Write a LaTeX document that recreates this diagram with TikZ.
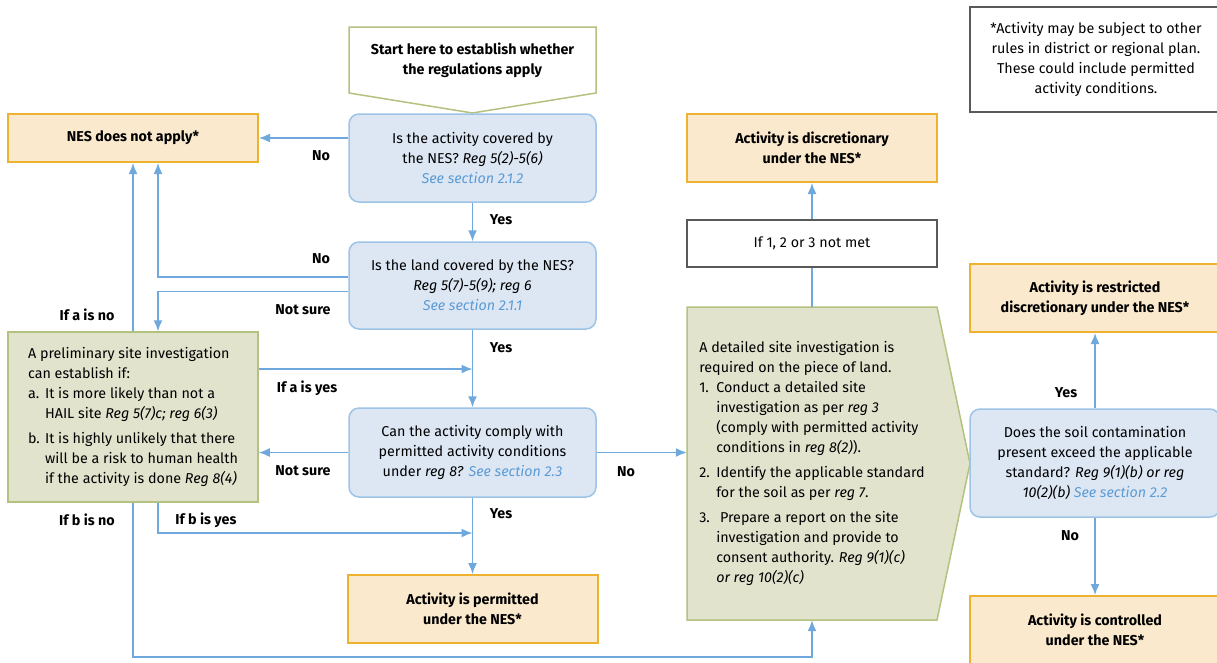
\documentclass[tikz,border=0pt]{standalone}
\usepackage{fontspec}
\setmainfont{Fira Sans}
\usetikzlibrary{calc,arrows.meta}
\definecolor{qfill}{HTML}{DDE7F4}
\definecolor{qline}{HTML}{9DC3E6}
\definecolor{rfill}{HTML}{FAE9CD}
\definecolor{rline}{HTML}{EDB230}
\definecolor{gfill}{HTML}{E1E3CD}
\definecolor{gline}{HTML}{B3C27E}
\definecolor{aline}{HTML}{6FA8DC}
\definecolor{link}{HTML}{5B9BD5}
\newcommand{\fsz}{\fontsize{14.3}{20}\selectfont}
\newcommand{\see}[1]{\textcolor{link}{\textit{See section #1}}}
\newcommand{\itm}[1]{\makebox[17pt][l]{#1}}
\tikzset{>={Latex[length=11pt,width=9pt]}}
\tikzset{
  box/.style={minimum width=250pt,inner sep=0pt,align=center,font=\fsz},
  qbox/.style={box,minimum width=247pt,draw=qline,fill=qfill,line width=1.5pt,rounded corners=10pt},
  rbox/.style={box,draw=rline,fill=rfill,line width=2pt,minimum height=68pt,font=\fsz\bfseries},
  wbox/.style={box,draw=black!65,line width=1.2pt},
  lbl/.style={font=\fsz\bfseries,inner sep=0pt},
  conn/.style={->,aline,line width=1.5pt}
}

\begin{document}
\begin{tikzpicture}[x=1pt,y=-1pt]
  \useasboundingbox (0,0) rectangle (1217,662);
  \draw[gline,line width=1.5pt] (349,27) -- (596,27) -- (596,93) -- (472.5,113) -- (349,93) -- cycle;
  \filldraw[gline,fill=gfill,line width=1.5pt] (687,307) -- (937,307) -- (970,463.5) -- (937,620) -- (687,620) -- cycle;

  \node[box,minimum width=247pt,minimum height=66pt,font=\fsz\bfseries] (start) at (472.5,60) {Start here to establish whether\\the regulations apply};
  \node[qbox,minimum height=88pt] (q1) at (472.5,158) {Is the activity covered by\\the NES? \textit{Reg 5(2)-5(6)}\\\see{2.1.2}};
  \node[qbox,minimum height=87pt] (q2) at (472.5,285.5) {Is the land covered by the NES?\\\textit{Reg 5(7)-5(9); reg 6}\\\see{2.1.1}};
  \node[qbox,minimum height=89pt] (q3) at (472.5,452.5) {Can the activity comply with\\permitted activity conditions\\under \textit{reg 8?} \see{2.3}};
  \node[qbox,minimum width=250pt,minimum height=108pt] (q4) at (1095,463) {Does the soil contamination\\present exceed the applicable\\standard? \textit{Reg 9(1)(b) or reg}\\\textit{10(2)(b)} \see{2.2}};
  \node[rbox,minimum height=48pt] (nes) at (133,138) {NES does not apply*};
  \node[rbox] (perm) at (472.5,609) {Activity is permitted\\under the NES*};
  \node[rbox] (disc) at (812,148) {Activity is discretionary\\under the NES*};
  \node[rbox] (restr) at (1095,298) {Activity is restricted\\discretionary under the NES*};
  \node[rbox] (ctrl) at (1095,630) {Activity is controlled\\under the NES*};
  \node[wbox,minimum height=47pt] (notmet) at (812,243.5) {If 1, 2 or 3 not met};
  \node[wbox,minimum width=252pt,minimum height=105pt] (note) at (1096,59.5) {*Activity may be subject to other\\rules in district or regional plan.\\These could include permitted\\activity conditions.};
  \node[box,draw=gline,fill=gfill,line width=1.5pt,align=left,minimum height=170pt] (psi) at (133,417)
    {A preliminary site investigation\\can establish if:\\\itm{a.}It is more likely than not a\\\itm{}HAIL site \textit{Reg 5(7)c; reg 6(3)}\\[5pt]\itm{b.}It is highly unlikely that there\\\itm{}will be a risk to human health\\\itm{}if the activity is done \textit{Reg 8(4)}};
  \node[box,align=left,minimum height=313pt] (dsi) at (812,463.5)
    {A detailed site investigation is\\required on the piece of land.\\\itm{1.}Conduct a detailed site\\\itm{}investigation as per \textit{reg 3}\\\itm{}(comply with permitted activity\\\itm{}conditions in \textit{reg 8(2)}).\\[5pt]\itm{2.}Identify the applicable standard\\\itm{}for the soil as per \textit{reg 7}.\\[5pt]\itm{3.}\ Prepare a report on the site\\\itm{}investigation and provide to\\\itm{}consent authority. \textit{Reg 9(1)(c)}\\\itm{}\textit{or reg 10(2)(c)}};

  \draw[conn] (q1.west |- nes.east) -- (nes.east);
  \draw[conn] (q1) -- (q2);
  \draw[conn] ($(q2.west)+(0,-8.5)$) -| ($(nes.south)+(25,0)$);
  \draw[conn] ($(q2.west)+(0,6)$) -| ($(psi.north)+(25,0)$);
  \draw[conn] (psi.north) -- (nes.south);
  \draw[conn] (q2) -- (q3);
  \draw[conn] ($(psi.east)+(0,-48)$) coordinate (ay) -- (ay -| q2.south);
  \draw[conn] (q3.west) -- (q3.west -| psi.east);
  \draw[conn] (q3) -- (perm);
  \draw[conn] ($(psi.south)+(25,0)$) |- ($(perm.north)+(0,-41)$);
  \draw[conn] (psi.south) |- ($(dsi.south)+(0,37)$) -- (dsi.south);
  \draw[conn] (q3.east) -- (q3.east -| dsi.west);
  \draw[aline,line width=1.5pt] (dsi) -- (notmet);
  \draw[conn] (notmet) -- (disc);
  \draw[conn] (q4) -- (restr);
  \draw[conn] (q4) -- (ctrl);

  \foreach \t/\x/\y [count=\i] in {No/321/156, Yes/501/220, No/321/259, Not sure/303/310, If a is no/87/315,
      Yes/501/348, If a is yes/307/388, Not sure/303/471, If b is no/87/520, If b is yes/206/520,
      Yes/501/514, No/626/472, Yes/1066/393, No/1070/536}
    \node[lbl] (lb\i) at (\x,\y) {\t};
\end{tikzpicture}
\end{document}
